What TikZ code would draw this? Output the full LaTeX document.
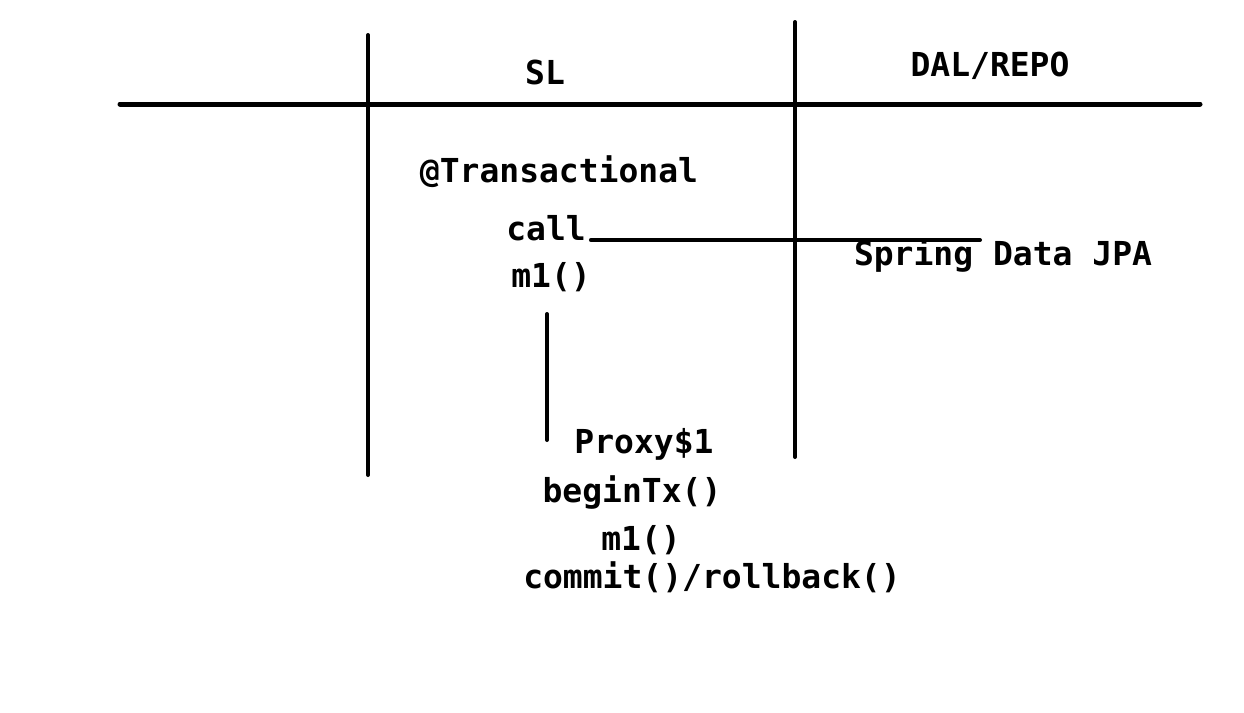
\documentclass[tikz,border=0pt]{standalone}
\usepackage{fontspec}
\setmonofont{DejaVu Sans Mono}
\tikzset{
  lbl/.style={anchor=base,inner sep=0pt,font=\ttfamily\bfseries\fontsize{33}{33}\selectfont},
  bar/.style={line width=4pt,line cap=round}
}
\begin{document}
\begin{tikzpicture}[x=1pt,y=-1pt]
    \useasboundingbox (0,0) rectangle (1244,712);
    % layers
    \draw[bar,line width=5pt] (120,104) -- (1200,104);
    \draw[bar] (368,35) -- (368,475);
    \draw[bar] (795,22) -- (795,457);
    \node[lbl] (sl) at (545,84) {SL};
    \node[lbl] (dal) at (990,76) {DAL/REPO};

    \node[lbl] (tx) at (559,182) {@Transactional};
    \node[lbl] (call) at (546,240) {call};
    \node[lbl] (m1) at (551,287) {m1()};
    \node[lbl] (jpa) at (1003,265) {Spring Data JPA};
    \coordinate (callend) at (980,240);
    \draw[bar] ([xshift=5pt]call.base east) -- (callend);

    \coordinate (ptop) at (547,314);
    \coordinate (pbot) at (547,440);
    \draw[bar] (ptop) -- (pbot);
    \node[lbl] (proxy) at (644,453) {Proxy\$1};
    \node[lbl] (begin) at (632,502) {beginTx()};
    \node[lbl] (m1b) at (641,550) {m1()};
    \node[lbl] (commit) at (712,588) {commit()/rollback()};
  \end{tikzpicture}
\end{document}
